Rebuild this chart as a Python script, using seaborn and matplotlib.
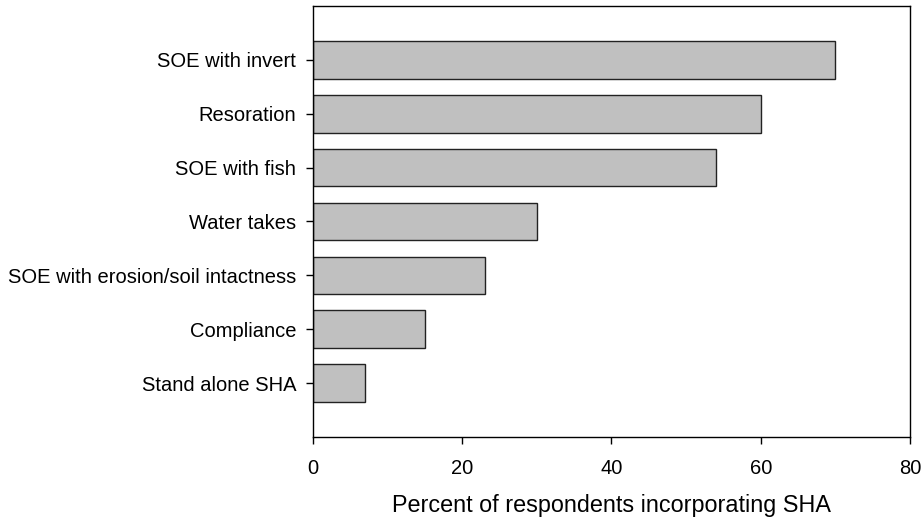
# Horizontal bar chart: share of respondents incorporating SHA by programme type

import matplotlib
matplotlib.use("Agg")
import matplotlib.pyplot as plt
import seaborn as sns
import pandas as pd

# Data
categories = [
    "SOE with invert",
    "Resoration",
    "SOE with fish",
    "Water takes",
    "SOE with erosion/soil intactness",
    "Compliance",
    "Stand alone SHA",
]
percent = [70, 60, 54, 30, 23, 15, 7]
x_ticks = [0, 20, 40, 60, 80]

df = pd.DataFrame({"category": categories, "percent": percent})

# Style
sns.set_style("ticks")
plt.rcParams["font.family"] = ["Liberation Sans", "DejaVu Sans"]
plt.rcParams["text.color"] = "black"
plt.rcParams["axes.labelcolor"] = "black"
plt.rcParams["xtick.color"] = "black"
plt.rcParams["ytick.color"] = "black"

fig = plt.figure(figsize=(9.24, 5.2), dpi=100)
ax = fig.add_axes([0.3387, 0.1596, 0.6461, 0.8289])

sns.barplot(data=df, x="percent", y="category", orient="h",
            color="#c0c0c0", saturation=1, edgecolor="#222222",
            linewidth=1.0, width=0.7, ax=ax)

ax.set_xlim(0, 80)
ax.set_xticks(x_ticks)
ax.set_ylim(len(categories), -1)

ax.set_xlabel("Percent of respondents incorporating SHA", fontsize=16.8, labelpad=11)
ax.set_ylabel("")
ax.tick_params(axis="both", which="both", direction="out", length=5, width=1,
               labelsize=14.5, top=False, right=False)
ax.tick_params(axis="x", pad=11)
ax.tick_params(axis="y", pad=7)

for pos in ["left", "right", "top", "bottom"]:
    ax.spines[pos].set_visible(True)
    ax.spines[pos].set_linewidth(1.0)
    ax.spines[pos].set_color("black")

plt.savefig("out.png", dpi=100)
plt.close()
